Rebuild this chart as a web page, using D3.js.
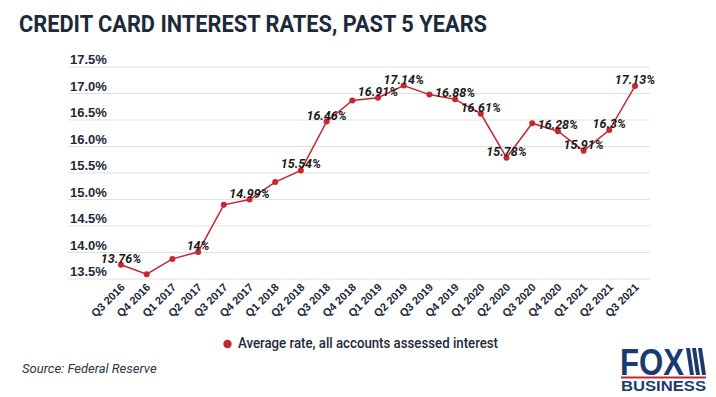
<!DOCTYPE html>
<html>
<head>
<meta charset="utf-8">
<script src="https://cdn.jsdelivr.net/npm/d3@7"></script>
<style>
  body { margin: 0; background: #fff; }
  svg { display: block; font-family: Roboto, "Noto Sans", sans-serif; }
</style>
</head>
<body>
<svg width="716" height="397"></svg>
<script>
var quarters = ["Q3 2016", "Q4 2016", "Q1 2017", "Q2 2017", "Q3 2017", "Q4 2017",
  "Q1 2018", "Q2 2018", "Q3 2018", "Q4 2018", "Q1 2019", "Q2 2019", "Q3 2019",
  "Q4 2019", "Q1 2020", "Q2 2020", "Q3 2020", "Q4 2020", "Q1 2021", "Q2 2021", "Q3 2021"];
var rates = [13.76, 13.58, 13.87, 14, 14.89, 14.99, 15.32, 15.54, 16.46, 16.86, 16.91,
  17.14, 16.97, 16.88, 16.61, 15.78, 16.43, 16.28, 15.91, 16.3, 17.13];
var labelled = ["Q3 2016", "Q2 2017", "Q4 2017", "Q2 2018", "Q3 2018", "Q1 2019", "Q2 2019",
  "Q4 2019", "Q1 2020", "Q2 2020", "Q4 2020", "Q1 2021", "Q2 2021", "Q3 2021"];
var yTicks = [13.5, 14, 14.5, 15, 15.5, 16, 16.5, 17, 17.5];

var ink = "#1d2a3b";
var red = "#c9252f";

var svg = d3.select("svg");

var x = d3.scalePoint().domain(quarters).range([121, 635]);
var y = d3.scaleLinear().domain([13.5, 17.5]).range([278.5, 66.5]);

var points = quarters.map(function(q, i) { return {q: q, v: rates[i]}; });

// title
svg.append("text")
  .attr("x", 19).attr("y", 32)
  .attr("textLength", 468).attr("lengthAdjust", "spacingAndGlyphs")
  .attr("fill", ink).attr("font-size", 24).attr("font-weight", 700)
  .text("CREDIT CARD INTEREST RATES, PAST 5 YEARS");

// gridlines + y labels
var yAxis = d3.axisLeft(y).tickValues(yTicks).tickSize(-582)
  .tickFormat(function(d) { return d.toFixed(1) + "%"; });
var yg = svg.append("g").attr("transform", "translate(650,0)").call(yAxis);
yg.select(".domain").remove();
yg.selectAll(".tick line").attr("stroke", "#e1e1e1").attr("x2", -582).attr("x1", 0);
yg.selectAll(".tick text")
  .attr("x", -580).attr("dy", -3).attr("text-anchor", "start")
  .attr("fill", ink).attr("font-size", 13).attr("font-weight", 700);

// x labels
var xAxis = d3.axisBottom(x).tickSize(0);
var xg = svg.append("g").attr("transform", "translate(0,279)").call(xAxis);
xg.select(".domain").remove();
xg.selectAll(".tick text")
  .attr("text-anchor", "end").attr("dy", 0).attr("y", 0)
  .attr("transform", "translate(4,9) rotate(-45)")
  .attr("fill", ink).attr("font-size", 11).attr("font-weight", 700);

// line
var line = d3.line()
  .x(function(d) { return x(d.q); })
  .y(function(d) { return y(d.v); });
svg.append("path").datum(points)
  .attr("d", line).attr("fill", "none")
  .attr("stroke", red).attr("stroke-width", 1.5);

svg.append("g").selectAll("circle")
  .data(points).enter()
  .append("circle")
  .attr("cx", function(d) { return x(d.q); })
  .attr("cy", function(d) { return y(d.v); })
  .attr("r", 3).attr("fill", red);

// value labels
svg.append("g").selectAll("text")
  .data(points.filter(function(d) { return labelled.indexOf(d.q) >= 0; }))
  .enter().append("text")
  .attr("x", function(d) { return x(d.q); })
  .attr("y", function(d) { return y(d.v) - 2; })
  .attr("text-anchor", "middle")
  .attr("fill", "#1a1a1a").attr("font-size", 12.5)
  .attr("font-weight", 700).attr("font-style", "italic")
  .text(function(d) { return d.v + "%"; });

// legend
svg.append("circle").attr("cx", 227.5).attr("cy", 344).attr("r", 4.2).attr("fill", red);
svg.append("text")
  .attr("x", 238).attr("y", 347.5)
  .attr("textLength", 260).attr("lengthAdjust", "spacingAndGlyphs")
  .attr("fill", ink).attr("font-size", 15).attr("font-weight", 500)
  .text("Average rate, all accounts assessed interest");

// source
svg.append("text")
  .attr("x", 22).attr("y", 373)
  .attr("fill", "#2b3647").attr("font-size", 13).attr("font-style", "italic")
  .text("Source: Federal Reserve");

// logo
var logo = svg.append("g");
var navy = "#1b3a72";
logo.append("text")
  .attr("x", 620).attr("y", 375)
  .attr("textLength", 64).attr("lengthAdjust", "spacingAndGlyphs")
  .attr("fill", navy).attr("font-size", 37).attr("font-weight", 900)
  .attr("font-family", "'Liberation Sans', Arial, sans-serif")
  .text("FOX");
[0, 6, 12].forEach(function(o) {
  logo.append("path")
    .attr("d", "M" + (686 + o) + ",348 l4,0 l4,27 l-4,0 Z")
    .attr("fill", navy);
});
logo.append("rect").attr("x", 621).attr("y", 376.5).attr("width", 85).attr("height", 2).attr("fill", red);
logo.append("text")
  .attr("x", 621).attr("y", 391)
  .attr("textLength", 85).attr("lengthAdjust", "spacingAndGlyphs")
  .attr("fill", navy).attr("font-size", 14).attr("font-weight", 700)
  .attr("font-family", "'Liberation Sans', Arial, sans-serif")
  .text("BUSINESS");
</script>
</body>
</html>
